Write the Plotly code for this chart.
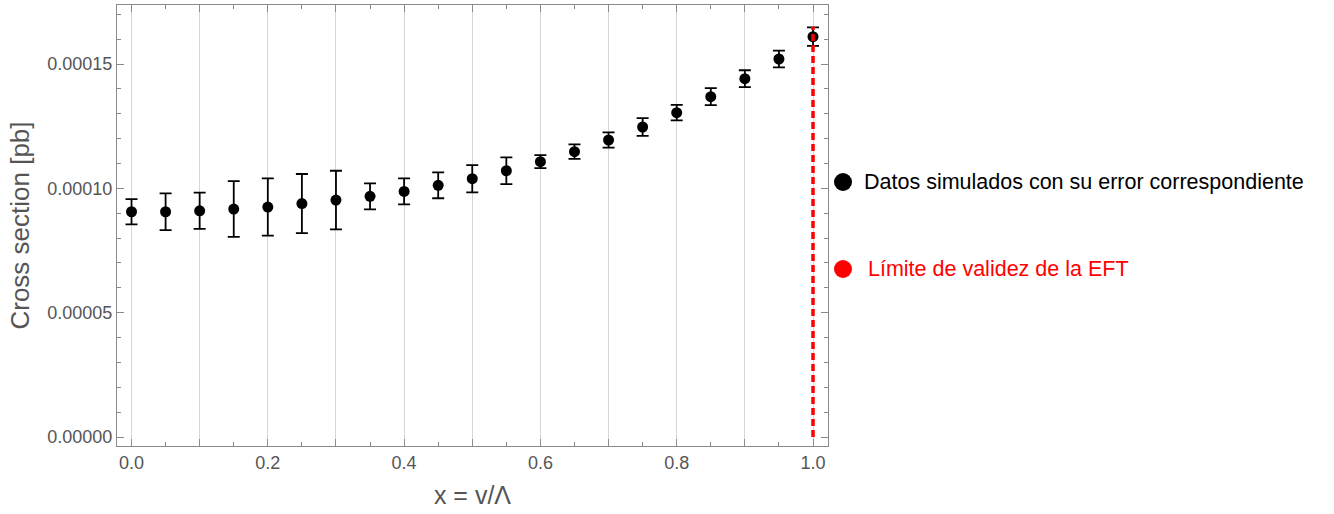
import plotly.graph_objects as go

# Data
x_vals = [0.0, 0.05, 0.1, 0.15, 0.2, 0.25, 0.3, 0.35, 0.4, 0.45, 0.5,
          0.55, 0.6, 0.65, 0.7, 0.75, 0.8, 0.85, 0.9, 0.95, 1.0]
cross_section = [9.06e-5, 9.06e-5, 9.10e-5, 9.17e-5, 9.25e-5, 9.39e-5, 9.53e-5,
                 9.68e-5, 9.88e-5, 1.0124e-4, 1.039e-4, 1.071e-4, 1.1075e-4,
                 1.1477e-4, 1.1947e-4, 1.247e-4, 1.3046e-4, 1.369e-4, 1.4413e-4,
                 1.5205e-4, 1.6103e-4]
errors = [5.1e-6, 7.4e-6, 7.3e-6, 1.12e-5, 1.15e-5, 1.19e-5, 1.18e-5, 5.2e-6,
          5.2e-6, 5.2e-6, 5.5e-6, 5.4e-6, 2.6e-6, 2.9e-6, 3.1e-6, 3.6e-6,
          3.1e-6, 3.4e-6, 3.4e-6, 3.4e-6, 3.7e-6]

limit_x = [1.0, 1.0]
limit_y = [0.0, 1.65e-4]

x_tickvals = [0.0, 0.1, 0.2, 0.3, 0.4, 0.5, 0.6, 0.7, 0.8, 0.9, 1.0]
x_ticktext = ["0.0", "", "0.2", "", "0.4", "", "0.6", "", "0.8", "", "1.0"]

legend_labels = ["Datos simulados con su error correspondiente",
                 "Límite de validez de la EFT"]

FONT = "Arial, Liberation Sans, sans-serif"
GRAY = "#555555"
FRAME = "#8a8a8a"

fig = go.Figure()

fig.add_trace(go.Scatter(
    x=x_vals, y=cross_section, mode="markers",
    marker=dict(color="black", size=11),
    error_y=dict(type="data", array=errors, visible=True,
                 color="black", thickness=1.8, width=6),
    showlegend=False, cliponaxis=False,
))

fig.add_trace(go.Scatter(
    x=limit_x, y=limit_y, mode="lines",
    line=dict(color="#ff0000", width=3.5, dash="7px,4px"),
    showlegend=False,
))

L, R, T, B = 117, 506, 5, 68
W, H = 1334, 514
pw = W - L - R
ph = H - T - B

def px_to_paper_x(px):
    return (px - L) / pw

def px_to_paper_y(py):
    return (H - B - py) / ph

fig.update_layout(
    width=W, height=H,
    margin=dict(l=L, r=R, t=T, b=B, pad=0),
    plot_bgcolor="white", paper_bgcolor="white",
    showlegend=False,
    font=dict(family=FONT, color=GRAY),
)

fig.update_xaxes(
    range=[-0.0213, 1.022],
    tickvals=x_tickvals, ticktext=x_ticktext,
    ticks="inside", ticklen=7, tickwidth=1, tickcolor=FRAME,
    minor=dict(dtick=0.05, ticks="inside", ticklen=4, tickcolor=FRAME, showgrid=False),
    showgrid=True, gridcolor="#d6d6d6", gridwidth=1,
    showline=True, linecolor=FRAME, linewidth=1, mirror="allticks",
    zeroline=False,
    tickfont=dict(size=18, color=GRAY, family=FONT),
    title=dict(text="x = v/Λ", font=dict(size=25, color=GRAY, family=FONT), standoff=14),
)

fig.update_yaxes(
    range=[-3.62e-6, 1.7377e-4],
    tick0=0, dtick=5e-5, tickformat=".5f",
    ticks="inside", ticklen=7, tickwidth=1, tickcolor=FRAME,
    minor=dict(dtick=1e-5, ticks="inside", ticklen=4, tickcolor=FRAME, showgrid=False),
    showgrid=False,
    showline=True, linecolor=FRAME, linewidth=1, mirror="allticks",
    zeroline=False,
    tickfont=dict(size=18, color=GRAY, family=FONT),
    title=dict(text="Cross section [pb]", font=dict(size=26, color=GRAY, family=FONT), standoff=10),
)

# Legend drawn manually on the right
legend_items = [
    (182, "black", legend_labels[0], 862),
    (269, "#ff0000", legend_labels[1], 866),
]
for py, col, label, tx in legend_items:
    fig.add_shape(type="circle", xref="paper", yref="paper",
                  xsizemode="pixel", ysizemode="pixel",
                  xanchor=px_to_paper_x(843), yanchor=px_to_paper_y(py),
                  x0=-9, x1=9, y0=-9, y1=9,
                  fillcolor=col, line=dict(width=0))
    fig.add_annotation(xref="paper", yref="paper",
                       x=px_to_paper_x(tx), y=px_to_paper_y(py),
                       xanchor="left", yanchor="middle", showarrow=False,
                       text=label, font=dict(size=21.5, color=col, family=FONT))

fig.write_html("out.html")
